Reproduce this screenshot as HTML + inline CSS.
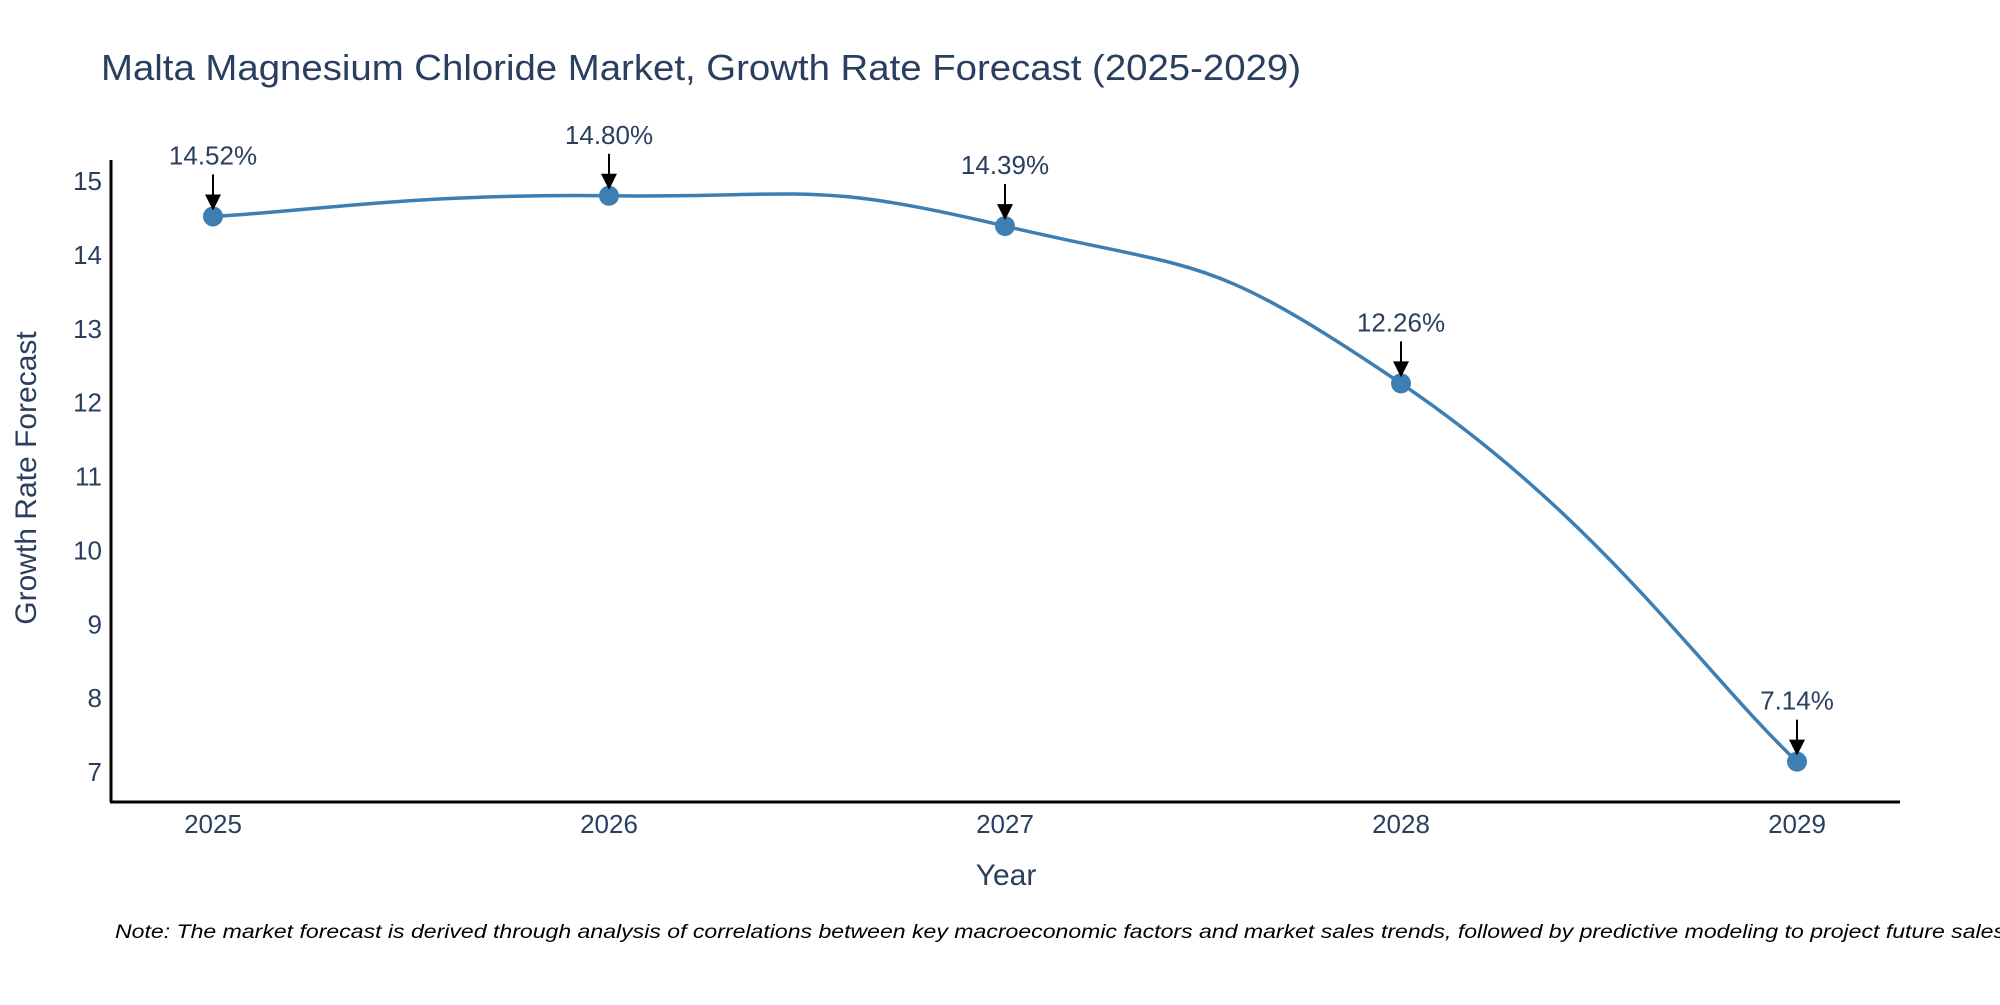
<!DOCTYPE html>
<html><head><meta charset="utf-8"><style>
html,body{margin:0;padding:0;background:#fff;}
svg text{font-family:"Liberation Sans","DejaVu Sans",sans-serif;fill:#2a3f5f;}
</style></head><body>
<svg id="chart" width="2000" height="1000" viewBox="0 0 2000 1000" xmlns="http://www.w3.org/2000/svg">
<rect width="2000" height="1000" fill="#fff"/>
<text x="101" y="80" font-size="36" textLength="1200" lengthAdjust="spacingAndGlyphs">Malta Magnesium Chloride Market, Growth Rate Forecast (2025-2029)</text>
<g id="plot"></g>
<line x1="111" y1="160" x2="111" y2="802" stroke="#000" stroke-width="3"/>
<line x1="110" y1="802" x2="1900" y2="802" stroke="#000" stroke-width="3"/>
<text x="1006" y="885" font-size="30" text-anchor="middle">Year</text>
<text x="0" y="0" font-size="30" text-anchor="middle" transform="translate(36,478) rotate(-90)">Growth Rate Forecast</text>
<text x="115" y="938" font-size="19" font-style="italic" fill="#000" style="fill:#000" textLength="1890" lengthAdjust="spacingAndGlyphs">Note: The market forecast is derived through analysis of correlations between key macroeconomic factors and market sales trends, followed by predictive modeling to project future sales</text>
</svg>
<script>
const years = ["2025","2026","2027","2028","2029"];
const values = [14.52, 14.80, 14.39, 12.26, 7.14];
const labels = ["14.52%","14.80%","14.39%","12.26%","7.14%"];
const yTicks = [7,8,9,10,11,12,13,14,15];

const NS = "http://www.w3.org/2000/svg";
const g = document.getElementById("plot");
function xs(i){ return 213 + i*(1797-213)/(years.length-1); }
function ys(v){ return 772 - (v-7)*(772-181)/8; }
function mk(tag, attrs){ const e=document.createElementNS(NS,tag); for(const k in attrs) e.setAttribute(k,attrs[k]); return e; }

yTicks.forEach(t=>{
  const e = mk("text",{x:102,y:ys(t)+9,"font-size":26,"text-anchor":"end"});
  
  
  e.textContent = t; g.appendChild(e);
});
years.forEach((y,i)=>{
  const e = mk("text",{x:xs(i),y:833,"font-size":26,"text-anchor":"middle"});
  
  
  e.textContent = y; g.appendChild(e);
});

const pts = values.map((v,i)=>[xs(i),ys(v)]);
let d = "M"+pts[0][0]+","+pts[0][1];
const s = 0.25;
for(let i=0;i<pts.length-1;i++){
  const p0=pts[Math.max(i-1,0)], p1=pts[i], p2=pts[i+1], p3=pts[Math.min(i+2,pts.length-1)];
  const c1=[p1[0]+(p2[0]-p0[0])*s, p1[1]+(p2[1]-p0[1])*s];
  const c2=[p2[0]-(p3[0]-p1[0])*s, p2[1]-(p3[1]-p1[1])*s];
  d += " C"+c1[0]+","+c1[1]+" "+c2[0]+","+c2[1]+" "+p2[0]+","+p2[1];
}
const line = mk("path",{d:d,fill:"none",stroke:"#3d7fb3","stroke-width":3.5});


g.appendChild(line);

pts.forEach((p,i)=>{
  const c = mk("circle",{cx:p[0],cy:p[1],r:10,fill:"#3d7fb3"});
  
  
  g.appendChild(c);
  const a = mk("line",{x1:p[0],y1:p[1]-42,x2:p[0],y2:p[1]-20,stroke:"#000","stroke-width":2});
  
  
  g.appendChild(a);
  const h = mk("polygon",{points:(p[0]-8)+","+(p[1]-22)+" "+(p[0]+8)+","+(p[1]-22)+" "+p[0]+","+(p[1]-6),fill:"#000"});
  
  
  g.appendChild(h);
  const t = mk("text",{x:p[0],y:p[1]-52,"font-size":26,"text-anchor":"middle"});
  
  
  t.textContent = labels[i]; g.appendChild(t);
});
</script>
</body></html>
